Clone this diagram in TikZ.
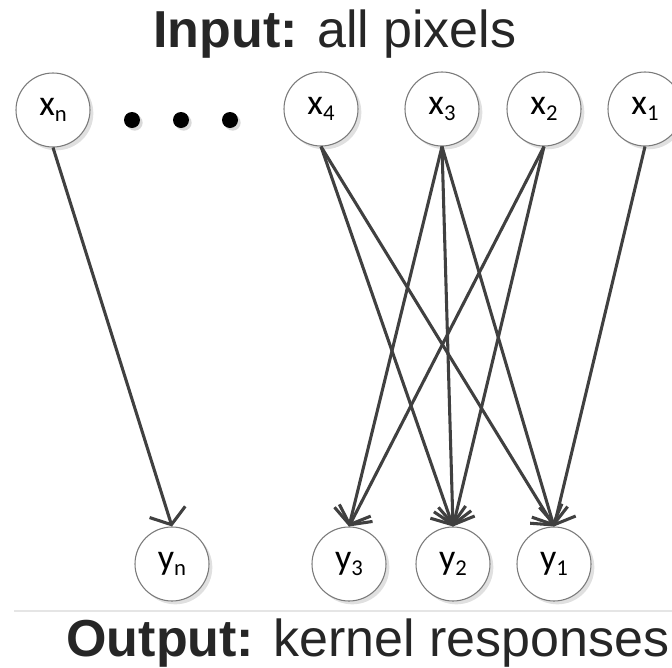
\documentclass[tikz,border=0pt]{standalone}
\usepackage{fontspec}
\setmainfont{Liberation Sans}
\newfontfamily\labfont{Carlito}
\usetikzlibrary{arrows.meta,shadows}
\definecolor{edgec}{HTML}{404040}
\definecolor{ringc}{HTML}{7A7A7A}
\definecolor{textc}{HTML}{262626}
\newcommand\lsub[1]{\raisebox{-4.5pt}{\fontsize{17}{17}\selectfont #1}}
\tikzset{
  unit/.style={circle, draw=ringc, line width=0.8pt, fill=white, minimum size=55.5pt, inner sep=0pt,
    font=\labfont\fontsize{27}{30}\selectfont, text=black,
    drop shadow={shadow xshift=2.5pt, shadow yshift=-2.5pt, fill=black!12, opacity=1}},
  bigdot/.style={circle, fill=black, minimum size=12pt, inner sep=0pt,
    drop shadow={shadow xshift=2pt, shadow yshift=-2pt, fill=black!15, opacity=1}},
  conn/.style={draw=edgec, line width=2.3pt, -{Straight Barb[length=10pt, width=28pt, line width=2.3pt]}},
  title/.style={font=\fontsize{39}{44}\selectfont, text=textc, inner sep=0pt, anchor=base}
}
\begin{document}
\begin{tikzpicture}[x=0.75pt, y=-0.75pt]
\useasboundingbox (0,0) rectangle (672,668);
\node[title] (tin) at (335,47) {\textbf{Input:} all pixels};
\node[title] (tout) at (368,656) {\textbf{Output:} kernel responses};
\draw[black!10, line width=0.8pt] (14,611) -- (672,611);

\node[unit] (xn) at (53,110) {x\lsub{n}};
\node[bigdot] (d1) at (132,120) {};
\node[bigdot] (d2) at (181,120) {};
\node[bigdot] (d3) at (230,120) {};
\node[unit] (x4) at (321,109) {x\lsub{4}};
\node[unit] (x3) at (442,109) {x\lsub{3}};
\node[unit] (x2) at (544,109) {x\lsub{2}};
\node[unit] (x1) at (645,109) {x\lsub{1}};

\node[unit] (yn) at (172,564) {y\lsub{n}};
\node[unit] (y3) at (349,564) {y\lsub{3}};
\node[unit] (y2) at (453,564) {y\lsub{2}};
\node[unit] (y1) at (554,564) {y\lsub{1}};

\draw[conn] (xn.south) -- (yn.north);
\draw[conn] (x4.south) -- (y2.north);
\draw[conn] (x4.south) -- (y1.north);
\draw[conn] (x3.south) -- (y3.north);
\draw[conn] (x3.south) -- (y2.north);
\draw[conn] (x3.south) -- (y1.north);
\draw[conn] (x2.south) -- (y3.north);
\draw[conn] (x2.south) -- (y2.north);
\draw[conn] (x1.south) -- (y1.north);
\end{tikzpicture}
\end{document}
